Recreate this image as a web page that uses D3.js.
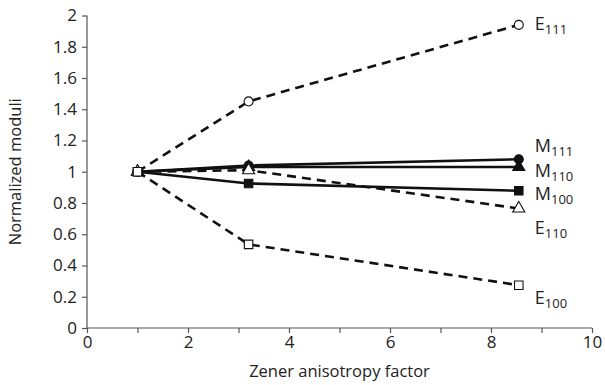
<!DOCTYPE html>
<html>
<head>
<meta charset="utf-8">
<script src="https://cdn.jsdelivr.net/npm/d3@7"></script>
<style>
    body { margin: 0; background: #ffffff; }
    text { font-family: "Open Sans", "Liberation Sans", sans-serif; fill: #222222; }
</style>
</head>
<body>
<script>
// 数据
const zenerFactor = [1, 3.2, 8.55];
const e111 = [1, 1.45, 1.94];
const m111 = [1, 1.04, 1.08];
const m110 = [1, 1.03, 1.03];
const m100 = [1, 0.925, 0.878];
const e110 = [1, 1.01, 0.765];
const e100 = [1, 0.535, 0.274];
const xTicks = [0, 1, 2, 3, 4, 5, 6, 7, 8, 9, 10];
const yTicks = [0, 0.2, 0.4, 0.6, 0.8, 1, 1.2, 1.4, 1.6, 1.8, 2];

// M 系列先画，E 系列覆盖在上面
const seriesList = [
    {name: 'M', sub: '100', values: m100, dashed: false, symbol: d3.symbolSquare, filled: true, labelDy: 9},
    {name: 'M', sub: '110', values: m110, dashed: false, symbol: d3.symbolTriangle, filled: true, labelDy: 10},
    {name: 'M', sub: '111', values: m111, dashed: false, symbol: d3.symbolCircle, filled: true, labelDy: -7},
    {name: 'E', sub: '111', values: e111, dashed: true, symbol: d3.symbolCircle, filled: false, labelDy: 5},
    {name: 'E', sub: '110', values: e110, dashed: true, symbol: d3.symbolTriangle, filled: false, labelDy: 26},
    {name: 'E', sub: '100', values: e100, dashed: true, symbol: d3.symbolSquare, filled: false, labelDy: 19}
];

const svgWidth = 605, svgHeight = 385;
const margin = {left: 87, right: 13, top: 15.5, bottom: 57};

const svg = d3.select('body').append('svg')
    .attr('width', svgWidth)
    .attr('height', svgHeight);

const x = d3.scaleLinear().domain([0, 10]).range([margin.left, svgWidth - margin.right]);
const y = d3.scaleLinear().domain([0, 2]).range([svgHeight - margin.bottom, margin.top]);

// 坐标轴
const xAxis = svg.append('g')
    .attr('transform', `translate(0,${y(0)})`)
    .call(d3.axisBottom(x).tickValues(xTicks).tickSize(5).tickPadding(3)
        .tickFormat(d => d % 2 === 0 ? d : ''));
const yAxis = svg.append('g')
    .attr('transform', `translate(${x(0)},0)`)
    .call(d3.axisLeft(y).tickValues(yTicks).tickSize(5).tickPadding(5)
        .tickFormat(d => d3.format('')(+d.toFixed(1))));

[xAxis, yAxis].forEach(a => {
    a.selectAll('path, line').attr('stroke', '#555555').attr('stroke-width', 1.2);
    a.selectAll('text').style('font-size', '17px').attr('fill', '#222222');
});
yAxis.select('.domain').attr('d', `M0,${y(0)}V${y(2)}`);
xAxis.select('.domain').attr('d', `M${x(0)},0H${x(10)}`);

svg.append('text')
    .attr('x', (x(0) + x(10)) / 2)
    .attr('y', 377)
    .attr('text-anchor', 'middle')
    .style('font-size', '16.5px')
    .text('Zener anisotropy factor');
svg.append('text')
    .attr('transform', `translate(21,${(y(0) + y(2)) / 2}) rotate(-90)`)
    .attr('text-anchor', 'middle')
    .style('font-size', '16.5px')
    .text('Normalized moduli');

// 折线
const line = d3.line()
    .x((d, i) => x(zenerFactor[i]))
    .y(d => y(d));

const plot = svg.append('g');
seriesList.forEach(s => {
    const g = plot.append('g');
    g.append('path')
        .datum(s.values)
        .attr('d', line)
        .attr('fill', 'none')
        .attr('stroke', '#111111')
        .attr('stroke-width', 2.6)
        .attr('stroke-dasharray', s.dashed ? '9,6' : null);

    // 标记
    g.selectAll(null)
        .data(s.values)
        .enter()
        .append('path')
        .attr('transform', (d, i) => `translate(${x(zenerFactor[i])},${y(d)})`)
        .attr('d', d3.symbol().type(s.symbol).size(s.symbol === d3.symbolSquare ? 72 : 64))
        .attr('fill', s.filled ? '#111111' : '#ffffff')
        .attr('stroke', '#111111')
        .attr('stroke-width', 1.1);
});

// 标签
seriesList.forEach(s => {
    const last = s.values[s.values.length - 1];
    const t = svg.append('text')
        .attr('x', x(zenerFactor[2]) + 16)
        .attr('y', y(last) + s.labelDy)
        .style('font-size', '18px');
    t.append('tspan').text(s.name);
    t.append('tspan')
        .attr('dy', 4)
        .style('font-size', '13px')
        .text(s.sub);
});
</script>
</body>
</html>
